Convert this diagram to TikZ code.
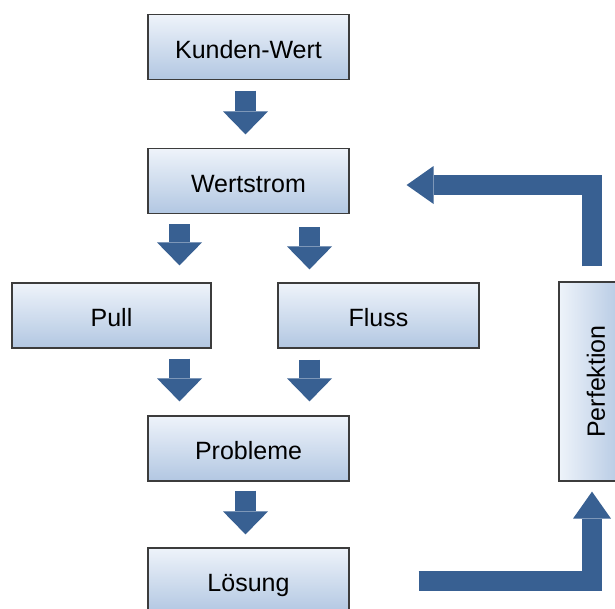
\documentclass[tikz,border=0pt]{standalone}
\usepackage{fontspec}
\setmainfont{Liberation Sans}
\usetikzlibrary{arrows.meta,calc}
\definecolor{arrowblue}{RGB}{56,96,146}
\definecolor{boxtop}{RGB}{238,243,250}
\definecolor{boxbottom}{RGB}{178,199,226}
\definecolor{boxline}{RGB}{60,60,60}
\begin{document}
\begin{tikzpicture}[x=1pt,y=-1pt,
  stagebox/.style={draw=boxline, line width=1.2pt, top color=boxtop, bottom color=boxbottom,
    minimum width=201pt, minimum height=65pt, inner sep=0pt,
    text height=22pt, text depth=-4pt, font=\fontsize{25}{30}\selectfont},
  uprightbox/.style={stagebox, left color=boxtop, right color=boxbottom,
    text height={}, text depth={}, minimum width=66pt, minimum height=199pt},
  blockarrow/.style={draw=arrowblue, line width=21pt,
    -{Triangle[length=23pt,width=45pt,line width=0pt]}},
  looparrow/.style={draw=arrowblue, line width=20pt, line join=miter,
    -{Triangle[length=27pt,width=38pt,line width=0pt]}}]
\clip (0,0) rectangle (615,608);
\useasboundingbox (0,0) rectangle (615,608);

% stages
\node[stagebox] (kw) at (248.5,47) {Kunden-Wert};
\node[stagebox] (ws) at (248.5,181) {Wertstrom};
\node[stagebox, minimum width=199pt] (pull) at (111.5,315.5) {Pull};
\node[stagebox] (fluss) at (378.5,315.5) {Fluss};
\node[stagebox] (prob) at (248.5,448.5) {Probleme};
\node[stagebox] (los) at (248.5,580.5) {Lösung};
% upright box: text runs upwards, gradient runs from left to right
\node[uprightbox] (perf) at (592,381.5) {\hspace{8pt}\rotatebox{90}{Perfektion}};

% arrow columns
\coordinate (cm) at (245.5,0);
\coordinate (cl) at (179.5,0);
\coordinate (cr) at (309.5,0);

% downward flow
\draw[blockarrow] ($(kw.south -| cm)+(0,10.5)$) -- ($(ws.north -| cm)+(0,-13.5)$);
\draw[blockarrow] ($(ws.south -| cl)+(0,10)$) -- ($(pull.north -| cl)+(0,-17)$);
\draw[blockarrow] ($(ws.south -| cr)+(0,13)$) -- ($(fluss.north -| cr)+(0,-13)$);
\draw[blockarrow] ($(pull.south -| cl)+(0,10)$) -- ($(prob.north -| cl)+(0,-14)$);
\draw[blockarrow] ($(fluss.south -| cr)+(0,11)$) -- ($(prob.north -| cr)+(0,-14)$);
\draw[blockarrow] ($(prob.south -| cm)+(0,9)$) -- ($(los.north -| cm)+(0,-13)$);

% improvement loop
\draw[looparrow] ($(los.east)+(69,0)$) -| ($(perf.south)+(0,10)$);
\draw[looparrow] ($(perf.north)+(0,-15)$) |- ($(ws.east)+(57,4)$);
\end{tikzpicture}
\end{document}
